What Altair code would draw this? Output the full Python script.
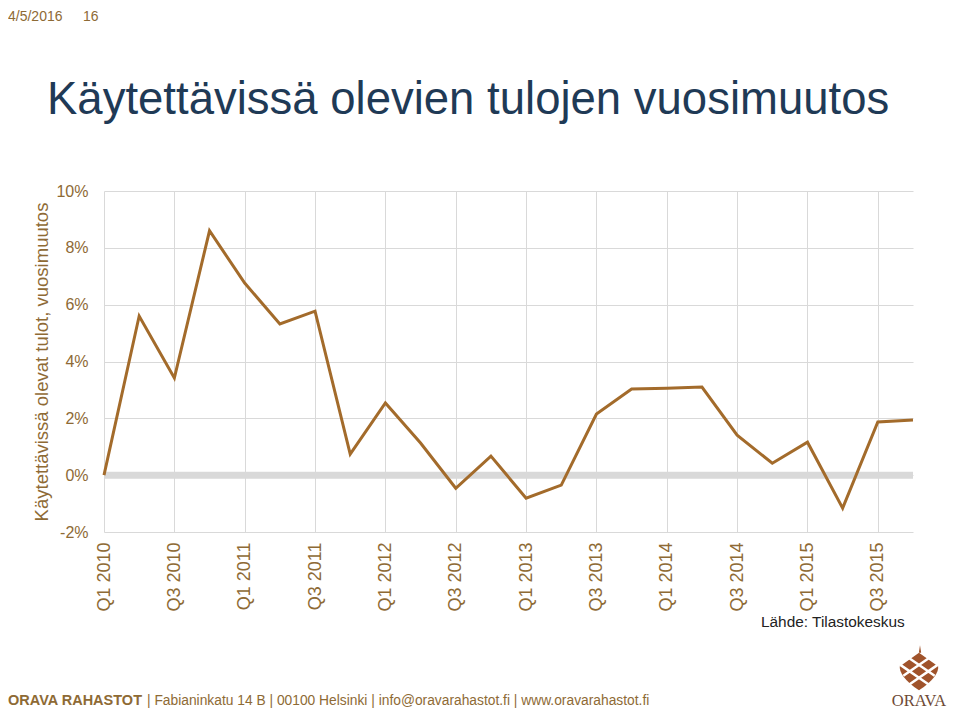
import altair as alt
import pandas as pd

quarters = [
    "Q1 2010", "Q2 2010", "Q3 2010", "Q4 2010",
    "Q1 2011", "Q2 2011", "Q3 2011", "Q4 2011",
    "Q1 2012", "Q2 2012", "Q3 2012", "Q4 2012",
    "Q1 2013", "Q2 2013", "Q3 2013", "Q4 2013",
    "Q1 2014", "Q2 2014", "Q3 2014", "Q4 2014",
    "Q1 2015", "Q2 2015", "Q3 2015", "Q4 2015",
]
change_pct = [
    0.00, 5.60, 3.42, 8.60,
    6.76, 5.32, 5.77, 0.74,
    2.54, 1.13, -0.46, 0.67,
    -0.81, -0.35, 2.15, 3.03,
    3.06, 3.10, 1.41, 0.42,
    1.16, -1.16, 1.87, 1.94,
]
tick_quarters = [q for q in quarters if q.startswith("Q1") or q.startswith("Q3")]
y_ticks = [-0.02, 0.0, 0.02, 0.04, 0.06, 0.08, 0.10]

TITLE = "Käytettävissä olevien tulojen vuosimuutos"
Y_TITLE = "Käytettävissä olevat tulot, vuosimuutos"
SOURCE = "Lähde: Tilastokeskus"
FOOT_BOLD = "ORAVA RAHASTOT"
FOOT_REST = "| Fabianinkatu 14 B | 00100 Helsinki | info@oravarahastot.fi | www.oravarahastot.fi"

BROWN = "#8E6A35"
LINE = "#A36B2B"
TITLE_C = "#1F3A56"
GRID = "#D9D9D9"
LOGO = "#A0532B"
FONT = "Liberation Sans"

df = pd.DataFrame({"q": quarters, "v": [v / 100 for v in change_pct]})

x_enc = alt.X(
    "q:O",
    sort=quarters,
    scale=alt.Scale(type="point", padding=0),
    axis=alt.Axis(
        values=tick_quarters,
        labelAngle=-90,
        labelFontSize=18,
        labelColor=BROWN,
        labelFont=FONT,
        labelPadding=10,
        ticks=False,
        domain=False,
        grid=True,
        gridColor=GRID,
        gridWidth=1,
        title=None,
    ),
)
y_enc = alt.Y(
    "v:Q",
    scale=alt.Scale(domain=[-0.02, 0.10], nice=False, zero=False),
    axis=alt.Axis(
        values=y_ticks,
        format=".0%",
        labelExpr="replace(datum.label, '\u2212', '-')",
        labelFontSize=16,
        labelColor=BROWN,
        labelFont=FONT,
        labelPadding=16,
        ticks=False,
        domain=False,
        grid=True,
        gridColor=GRID,
        gridWidth=1,
        title=Y_TITLE,
        titleFont=FONT,
        titleFontSize=18.5,
        titleFontWeight="normal",
        titleColor=BROWN,
        titlePadding=4,
    ),
)

base = alt.Chart(df)

zero_band = alt.Chart(pd.DataFrame({"z": [0.0]})).mark_rule(
    color=GRID, strokeWidth=7
).encode(y=alt.Y("z:Q"))

line = base.mark_line(color=LINE, strokeWidth=3, strokeJoin="miter").encode(x=x_enc, y=y_enc)


def label(text, x, y, size, color, align="left", baseline="middle", weight="normal", font=FONT):
    return alt.Chart(pd.DataFrame({"t": [text]})).mark_text(
        align=align, baseline=baseline, fontSize=size, color=color,
        fontWeight=weight, font=font,
    ).encode(text="t:N", x=alt.value(x), y=alt.value(y))


header_date = label("4/5/2016", -96, -174, 14, BROWN)
header_page = label("16", -21, -174, 14, BROWN)
title = label(TITLE, -57, -77, 45.5, TITLE_C, baseline="alphabetic")
source = label(SOURCE, 657, 431, 15.4, "#222222")
foot_bold = label(FOOT_BOLD, -96, 514, 14.5, BROWN, baseline="alphabetic", weight="bold")
foot_rest = label(FOOT_REST, 43, 514, 13.8, BROWN, baseline="alphabetic")
logo_text = label("ORAVA", 815, 515, 16.5, "#6E4A36", align="center",
                  baseline="alphabetic", font="Liberation Serif")

cone_path = "M0,-0.75 L0.85,-0.15 Q0.95,0.35 0,1 Q-0.95,0.35 -0.85,-0.15 Z"
lattice_path = (
    "M-0.85,-0.15 L0.45,0.75 M-0.45,-0.45 L0.7,0.35 M0,-0.75 L0.85,-0.15 "
    "M0.85,-0.15 L-0.45,0.75 M0.45,-0.45 L-0.7,0.35 M0,-0.75 L-0.85,-0.15"
)
cone = alt.Chart(pd.DataFrame({"k": ["cone"]})).mark_point(
    shape=cone_path, filled=True, color=LOGO, opacity=1, size=2000
).encode(x=alt.value(815), y=alt.value(477))
cone_lines = alt.Chart(pd.DataFrame({"k": ["lattice"]})).mark_point(
    shape=lattice_path, filled=False, color="white", strokeWidth=2.5, opacity=1, size=2000
).encode(x=alt.value(815), y=alt.value(477))
stem = alt.Chart(pd.DataFrame({"k": ["stem"]})).mark_point(
    shape="M-0.3,1 L0,-1 L0.3,1 Z", filled=True, color=LOGO, opacity=1, size=60
).encode(x=alt.value(816), y=alt.value(458))

chart = alt.layer(
    zero_band, line,
    header_date, header_page, title, source, foot_bold, foot_rest,
    cone, cone_lines, stem, logo_text,
).properties(
    width=809,
    height=341,
    autosize=alt.AutoSizeParams(type="none"),
    padding={"left": 96, "top": 183, "right": 39, "bottom": 179},
    background="white",
).configure_view(stroke=None)

chart.save("out.html", embed_options={"renderer": "svg", "actions": False})
